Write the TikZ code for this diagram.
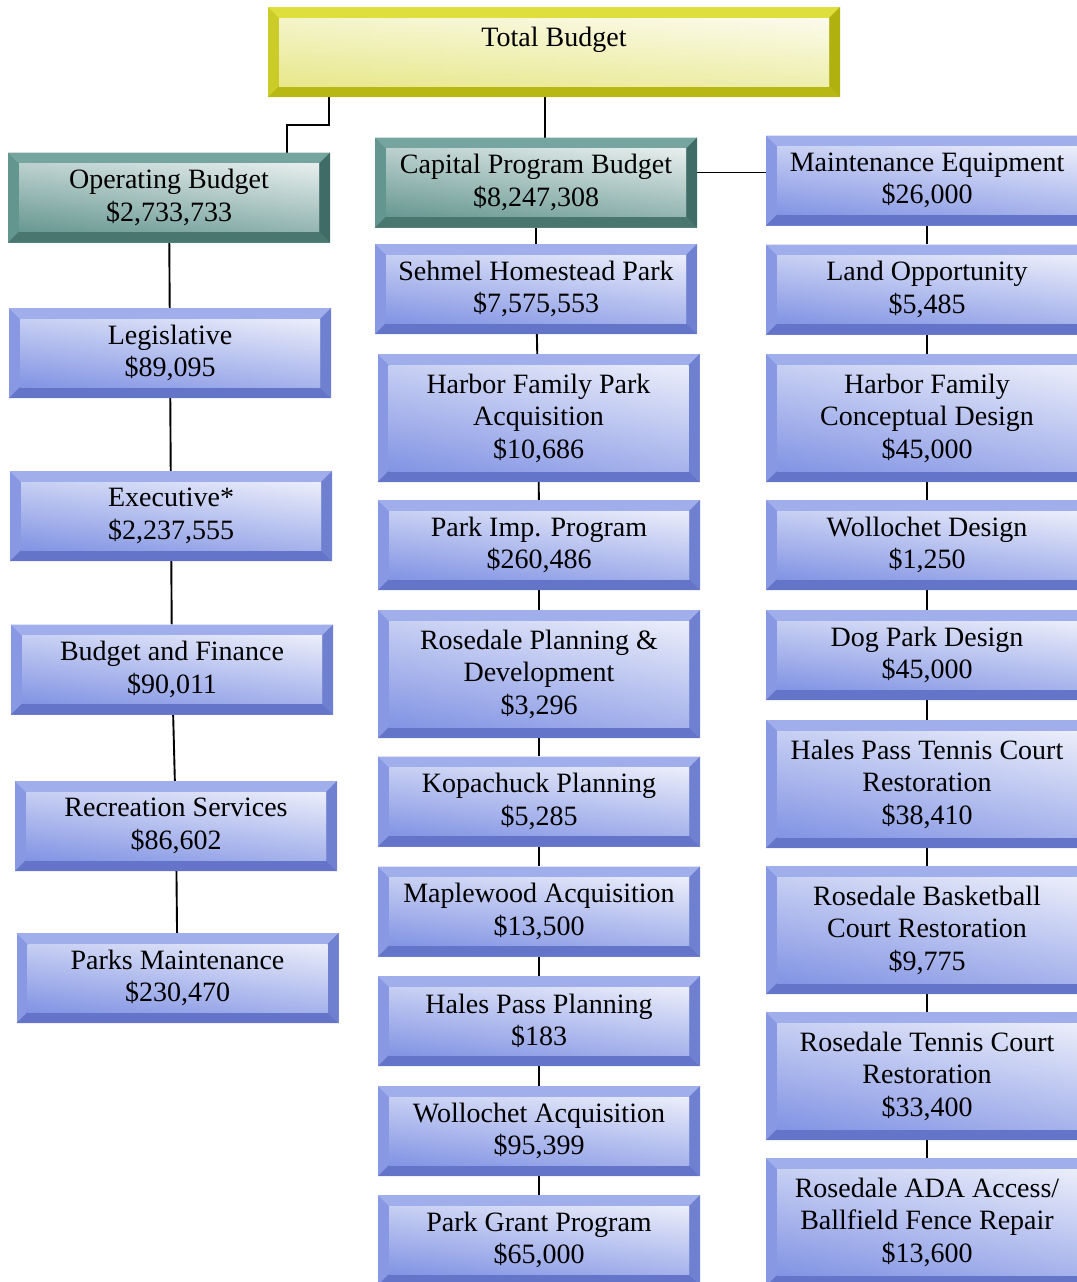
\documentclass[tikz,border=0pt]{standalone}
\usepackage{fontspec}
\setmainfont{Liberation Serif}
\usepackage{tikz}
\pgfdeclarelayer{bg}
\pgfsetlayers{bg,main}
\definecolor{bluetop}{RGB}{160,174,236}
\definecolor{blueleft}{RGB}{136,152,226}
\definecolor{blueright}{RGB}{112,128,208}
\definecolor{bluedark}{RGB}{100,116,200}
\definecolor{blueface}{RGB}{130,148,228}
\definecolor{tealtop}{RGB}{118,164,158}
\definecolor{tealleft}{RGB}{100,150,144}
\definecolor{tealright}{RGB}{64,108,104}
\definecolor{tealdark}{RGB}{74,118,112}
\definecolor{tealface}{RGB}{104,152,146}
\definecolor{goldtop}{RGB}{222,222,60}
\definecolor{goldleft}{RGB}{204,204,40}
\definecolor{goldright}{RGB}{176,176,14}
\definecolor{golddark}{RGB}{184,184,20}
\definecolor{goldface}{RGB}{232,232,140}
\tikzset{
  bevel/.style n args={5}{rectangle, inner sep=0pt, align=center,
    minimum width=322pt, minimum height=90pt,
    font=\fontsize{28pt}{32.5pt}\selectfont, fill=#2,
    path picture={
      \fill[#1] (path picture bounding box.north west) -- (path picture bounding box.north east)
        -- ([shift={(-11pt,-11pt)}]path picture bounding box.north east)
        -- ([shift={(11pt,-11pt)}]path picture bounding box.north west) -- cycle;
      \fill[#4] (path picture bounding box.south west) -- (path picture bounding box.south east)
        -- ([shift={(-11pt,11pt)}]path picture bounding box.south east)
        -- ([shift={(11pt,11pt)}]path picture bounding box.south west) -- cycle;
      \fill[#3] (path picture bounding box.south east) -- (path picture bounding box.north east)
        -- ([shift={(-11pt,-11pt)}]path picture bounding box.north east)
        -- ([shift={(-11pt,11pt)}]path picture bounding box.south east) -- cycle;
      \shade[left color=#5, middle color=white, right color=#5!35!white]
        ([shift={(11pt,11pt)}]path picture bounding box.south west)
        rectangle ([shift={(-11pt,-11pt)}]path picture bounding box.north east);
      \shade[top color=white, bottom color=#5, fill opacity=0.55]
        ([shift={(11pt,11pt)}]path picture bounding box.south west)
        rectangle ([shift={(-11pt,-11pt)}]path picture bounding box.north east);
    }},
  bluebox/.style={bevel={bluetop}{blueleft}{blueright}{bluedark}{blueface}},
  tealbox/.style={bevel={tealtop}{tealleft}{tealright}{tealdark}{tealface}},
  goldbox/.style={bevel={goldtop}{goldleft}{goldright}{golddark}{goldface}},
  tall/.style={minimum height=128pt},
  link/.style={line width=1.9pt}
}

\begin{document}
\begin{tikzpicture}
        \useasboundingbox (0pt,0pt) rectangle (1076pt,-1282pt);
        \node (m0) [goldbox, minimum width=572pt] at (554.000000pt, -52.000000pt) {Total Budget\\[-12pt] \strut};
        \node (l0) [tealbox] at (169.000000pt, -197.500000pt) {Operating Budget\\\$2,733,733};
        \node (l1) [bluebox] at (170.000000pt, -353.000000pt) {Legislative\\\$89,095};
        \node (l2) [bluebox] at (171.000000pt, -516.000000pt) {Executive*\\\$2,237,555};
        \node (l3) [bluebox] at (172.000000pt, -669.500000pt) {Budget and Finance\\\$90,011};
        \node (l4) [bluebox] at (176.000000pt, -826.000000pt) {Recreation Services\\\$86,602};
        \node (l5) [bluebox] at (177.500000pt, -978.000000pt) {Parks Maintenance\\\$230,470};
        \node (m1) [tealbox] at (536.000000pt, -182.500000pt) {Capital Program Budget\\\$8,247,308};
        \node (m2) [bluebox] at (536.000000pt, -289.000000pt) {Sehmel Homestead Park\\\$7,575,553};
        \node (m3) [bluebox, tall] at (538.500000pt, -418.000000pt) {Harbor Family Park\\Acquisition\\\$10,686};
        \node (m4) [bluebox] at (539.000000pt, -545.000000pt) {Park Imp. Program\\\$260,486};
        \node (m5) [bluebox, tall] at (539.000000pt, -674.000000pt) {Rosedale Planning \&\\Development\\\$3,296};
        \node (m6) [bluebox] at (539.000000pt, -801.500000pt) {Kopachuck Planning\\\$5,285};
        \node (m7) [bluebox] at (539.000000pt, -911.500000pt) {Maplewood Acquisition\\\$13,500};
        \node (m8) [bluebox] at (539.000000pt, -1021.000000pt) {Hales Pass Planning\\\$183};
        \node (m9) [bluebox] at (539.000000pt, -1131.000000pt) {Wollochet Acquisition\\\$95,399};
        \node (m10) [bluebox] at (539.000000pt, -1240.000000pt) {Park Grant Program\\\$65,000};
        \node (r0) [bluebox] at (927.000000pt, -180.500000pt) {Maintenance Equipment\\\$26,000};
        \node (r1) [bluebox] at (927.000000pt, -289.500000pt) {Land Opportunity\\\$5,485};
        \node (r2) [bluebox, tall] at (927.000000pt, -418.000000pt) {Harbor Family\\Conceptual Design\\\$45,000};
        \node (r3) [bluebox] at (927.000000pt, -545.000000pt) {Wollochet Design\\\$1,250};
        \node (r4) [bluebox] at (927.000000pt, -655.000000pt) {Dog Park Design\\\$45,000};
        \node (r5) [bluebox, tall] at (927.000000pt, -784.000000pt) {Hales Pass Tennis Court\\Restoration\\\$38,410};
        \node (r6) [bluebox, tall] at (927.000000pt, -930.000000pt) {Rosedale Basketball\\Court Restoration\\\$9,775};
        \node (r7) [bluebox, tall] at (927.000000pt, -1076.000000pt) {Rosedale Tennis Court\\Restoration\\\$33,400};
        \node (r8) [bluebox, tall] at (927.000000pt, -1222.000000pt) {Rosedale ADA Access/\\Ballfield Fence Repair\\\$13,600};
        \begin{pgfonlayer}{bg}
                \draw [link] ([xshift=118pt]l0.center) -- ([xshift=118pt]l0.north) -- ++(0pt,27pt) -| ([xshift=-225pt]m0.center);
                \draw [link] ([xshift=-9pt]m0.center) -- ([xshift=9pt]m1.center);
                \draw [link] ([yshift=10pt]m1.center) -- ([yshift=10pt]m1.center -| r0.center);
                \draw [link] (l0) -- (l1);
                \draw [link] (l1) -- (l2);
                \draw [link] (l2) -- (l3);
                \draw [link] (l3) -- (l4);
                \draw [link] (l4) -- (l5);
                \draw [link] (m1) -- (m2);
                \draw [link] (m2) -- (m3);
                \draw [link] (m3) -- (m4);
                \draw [link] (m4) -- (m5);
                \draw [link] (m5) -- (m6);
                \draw [link] (m6) -- (m7);
                \draw [link] (m7) -- (m8);
                \draw [link] (m8) -- (m9);
                \draw [link] (m9) -- (m10);
                \draw [link] (r0) -- (r1);
                \draw [link] (r1) -- (r2);
                \draw [link] (r2) -- (r3);
                \draw [link] (r3) -- (r4);
                \draw [link] (r4) -- (r5);
                \draw [link] (r5) -- (r6);
                \draw [link] (r6) -- (r7);
                \draw [link] (r7) -- (r8);
        \end{pgfonlayer}
\end{tikzpicture}
\end{document}
